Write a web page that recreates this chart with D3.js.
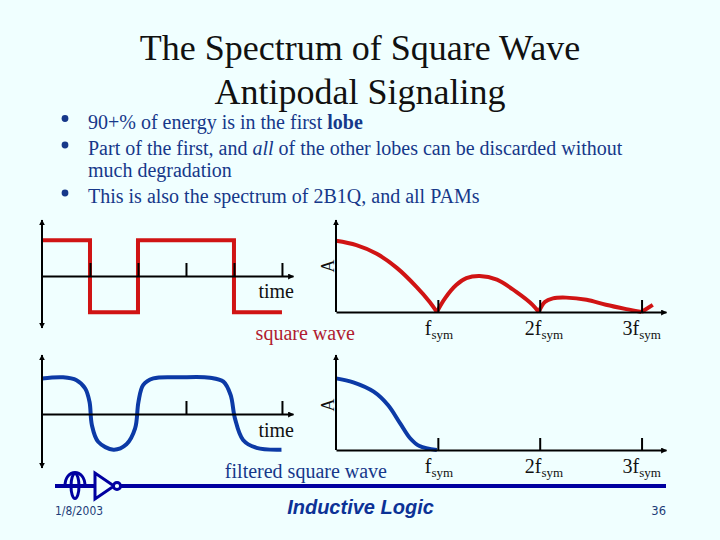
<!DOCTYPE html>
<html><head><meta charset="utf-8">
<script src="https://cdnjs.cloudflare.com/ajax/libs/d3/7.8.5/d3.min.js"></script>
<style>html,body{margin:0;padding:0;background:#f0ffff}svg{display:block}</style>
</head><body><svg id="c" width="720" height="540"></svg>
<script>
const titleLines = ["The Spectrum of Square Wave", "Antipodal Signaling"];
const squareTime = [0, 1, 1, 2, 2, 4, 4, 5];
const squareLevel = [1, 1, -1, -1, 1, 1, -1, -1];
const filteredTime = [0, .44, .72, .9, .99, 1.04, 1.17, 1.49, 1.76, 1.94, 2.01, 2.11, 2.32, 2.88, 3.5, 3.78, 3.93, 4.02, 4.19, 4.47, 4.99];
const filteredLevel = [.99, 1.02, .94, .71, .34, -.31, -.77, -.99, -.84, -.40, .34, .81, .99, 1.02, 1.01, .90, .53, -.12, -.72, -.94, -.99];
const lobeFreq = [
  [0, .2, .4, .6, .79, .92, .99],
  [.99, 1.07, 1.18, 1.28, 1.41, 1.58, 1.77, 1.93, 1.99],
  [1.99, 2.05, 2.13, 2.26, 2.46, 2.65, 2.85, 3.0],
  [3.0, 3.11]
];
const lobeAmp = [
  [.99, .93, .81, .61, .35, .14, 0],
  [0, .19, .375, .47, .5, .45, .28, .1, 0],
  [0, .14, .19, .2, .17, .1, .04, 0],
  [0, .1]
];
const filteredFreq = [0, .17, .37, .51, .63, .73, .82, .99];
const filteredAmp = [.995, .94, .81, .625, .37, .16, .055, 0];
const timeTicksTop = [1, 2, 3, 4, 5];
const timeTicksBottom = [3, 5];
const freqTicks = [1, 2, 3];
const freqLabels = ["f", "2f", "3f"];
const bullets = [
  {y: 128.5, parts: [["90+% of energy is in the first "], ["lobe", "bold"]], b: 1},
  {y: 155, parts: [["Part of the first, and "], ["all", "italic"], [" of the other lobes can be discarded without"]], b: 1},
  {y: 177, parts: [["much degradation"]], b: 0},
  {y: 203, parts: [["This is also the spectrum of 2B1Q, and all PAMs"]], b: 1}
];

const RED = "#d01414", BLUE = "#0c3aa6", INK = "#16388a", AX = "#000";
const svg = d3.select("#c");
const serif = "'Liberation Serif',serif";
svg.append("rect").attr("width", 720).attr("height", 540).attr("fill", "#f0ffff");
svg.append("defs").append("marker").attr("id", "ah").attr("viewBox", "0 0 10 10").attr("refX", 9).attr("refY", 5)
  .attr("markerWidth", 6).attr("markerHeight", 6).attr("markerUnits", "userSpaceOnUse").attr("orient", "auto-start-reverse")
  .append("path").attr("d", "M0,0L10,5L0,10Z").attr("fill", AX);

// Title and bullets
svg.append("g").selectAll("text").data(titleLines).join("text")
  .attr("x", 360).attr("y", (d, i) => 60 + i * 44).attr("text-anchor", "middle")
  .attr("font-family", serif).attr("font-size", 36).attr("fill", "#111").text(d => d);
const bl = svg.append("g").attr("font-family", serif).attr("font-size", 20).attr("fill", INK);
bullets.forEach(b => {
  const t = bl.append("text").attr("x", 88).attr("y", b.y);
  b.parts.forEach(p => {
    const s = t.append("tspan").text(p[0]).attr("xml:space", "preserve");
    if (p[1] === "bold") s.attr("font-weight", "bold");
    if (p[1] === "italic") s.attr("font-style", "italic");
  });
  if (b.b) bl.append("circle").attr("cx", 65).attr("cy", b.y - 10).attr("r", 3.4).attr("fill", INK);
});

function axes(g, xs, ys, y0, ticks, len) {
  const xAxis = d3.axisTop(xs).tickValues(ticks).tickFormat("").tickSize(len).tickSizeOuter(0);
  const gx = g.append("g").attr("transform", `translate(0,${y0})`).call(xAxis);
  gx.selectAll("line").attr("stroke", AX).attr("stroke-width", 2);
  gx.select(".domain").attr("stroke", AX).attr("stroke-width", 2).attr("marker-end", "url(#ah)");
  gx.select(".domain").attr("fill", "none");
}
function yAxis(g, xPos, ys, both) {
  const a = d3.axisLeft(ys).tickValues([]).tickSizeOuter(0);
  const gy = g.append("g").attr("transform", `translate(${xPos},0)`).call(a);
  const r = ys.range();
  gy.select(".domain").attr("d", `M0,${r[0]}L0,${r[1]}`)
    .attr("stroke", AX).attr("stroke-width", 2).attr("fill", "none").attr("marker-end", "url(#ah)");
  if (both) gy.select(".domain").attr("marker-start", "url(#ah)");
}
function trace(g, xs, ys, X, Y, color, w, curve) {
  const pts = X.map((x, i) => [x, Y[i]]);
  g.append("path").datum(pts).attr("fill", "none").attr("stroke", color).attr("stroke-width", w)
    .attr("stroke-linejoin", "miter")
    .attr("d", d3.line().x(d => xs(d[0])).y(d => ys(d[1])).curve(curve));
}
function labels(g, xs, y) {
  const t = g.append("g").selectAll("text").data(freqTicks).join("text")
    .attr("x", (d, i) => xs(d) + [-13, -15, -19][i]).attr("y", y)
    .attr("font-family", serif).attr("font-size", 20).attr("fill", "#111");
  t.append("tspan").text((d, i) => freqLabels[i]);
  t.append("tspan").attr("dy", 4).attr("font-size", 13).text("sym");
}
function label(g, x, y, s, color) {
  g.append("text").attr("x", x).attr("y", y).attr("text-anchor", "end").attr("font-family", serif)
    .attr("font-size", 20).attr("fill", color).text(s);
}
function ampLabel(g, y) {
  g.append("text").attr("transform", `translate(334,${y}) rotate(-90)`).attr("text-anchor", "middle")
    .attr("font-family", serif).attr("font-size", 18).attr("fill", "#111").text("A");
}

// Top row
const gT = svg.append("g");
const tX = d3.scaleLinear().domain([0, 5.23]).range([42, 293]);
const tYa = d3.scaleLinear().domain([-1.44, 1.56]).range([328, 220]);
trace(gT, tX, tYa, squareTime, squareLevel, RED, 4, d3.curveLinear);
axes(gT, tX, tYa, 276, timeTicksTop, 13);
yAxis(gT, 42, tYa, true);
label(gT, 294, 298, "time", "#111");
label(gT, 355, 340, "square wave", "#b01c30");

const fX = d3.scaleLinear().domain([0, 3.24]).range([336, 666]);
const aYa = d3.scaleLinear().domain([0, 1.28]).range([312, 220]);
lobeFreq.forEach((f, i) => trace(gT, fX, aYa, f, lobeAmp[i], RED, 4, i === 3 ? d3.curveLinear : d3.curveCatmullRom));
axes(gT, fX, aYa, 312, freqTicks, 12);
yAxis(gT, 336, aYa, false);
ampLabel(gT, 266);
labels(gT, fX, 335);

// Bottom row
const gB = svg.append("g");
const bYa = d3.scaleLinear().domain([-1.5, 1.64]).range([468, 355]);
trace(gB, tX, bYa, filteredTime, filteredLevel, BLUE, 4, d3.curveCatmullRom);
axes(gB, tX, bYa, 414, timeTicksBottom, 13);
yAxis(gB, 42, bYa, true);
label(gB, 294, 437, "time", "#111");
label(gB, 387, 478, "filtered square wave", "#16388a");

const aYb = d3.scaleLinear().domain([0, 1.32]).range([450, 355]);
trace(gB, fX, aYb, filteredFreq, filteredAmp, BLUE, 4, d3.curveCatmullRom);
axes(gB, fX, aYb, 450, freqTicks, 12);
yAxis(gB, 336, aYb, false);
ampLabel(gB, 405);
labels(gB, fX, 473);

// Footer
const F = "#0000a0", ft = svg.append("g");
ft.append("line").attr("x1", 55).attr("x2", 666).attr("y1", 486).attr("y2", 486).attr("stroke", F).attr("stroke-width", 4);
ft.append("rect").attr("x", 85).attr("y", 470).attr("width", 30).attr("height", 32).attr("fill", "#f0ffff");
ft.append("line").attr("x1", 85).attr("x2", 95).attr("y1", 486).attr("y2", 486).attr("stroke", F).attr("stroke-width", 4);
ft.append("path").attr("d", "M95,473L95,499L114,486Z").attr("fill", "none").attr("stroke", F).attr("stroke-width", 3);
ft.append("circle").attr("cx", 117).attr("cy", 486).attr("r", 3.6).attr("fill", "#f0ffff").attr("stroke", F).attr("stroke-width", 3);
ft.append("rect").attr("x", 66).attr("y", 478).attr("width", 18).attr("height", 6).attr("fill", "#f0ffff");
ft.append("path").attr("d", "M65,486C65,468 85,468 85,486").attr("fill", "none").attr("stroke", F).attr("stroke-width", 3);
ft.append("ellipse").attr("cx", 75).attr("cy", 486).attr("rx", 4).attr("ry", 12.5).attr("fill", "none").attr("stroke", F).attr("stroke-width", 3);
ft.append("text").attr("x", 55).attr("y", 515).attr("font-family", "'DejaVu Sans',sans-serif").attr("font-size", 11.5).attr("fill", "#1c3c78").attr("textLength", 48).attr("lengthAdjust", "spacingAndGlyphs").text("1/8/2003");
ft.append("text").attr("x", 360.5).attr("y", 514).attr("text-anchor", "middle").attr("font-family", "'Liberation Sans',sans-serif").attr("font-weight", "bold").attr("font-style", "italic").attr("font-size", 20).attr("fill", "#0c3296").text("Inductive Logic");
ft.append("text").attr("x", 666).attr("y", 515).attr("text-anchor", "end").attr("font-family", "'DejaVu Sans',sans-serif").attr("font-size", 11.5).attr("fill", "#1c3c78").text("36");
</script></body></html>
